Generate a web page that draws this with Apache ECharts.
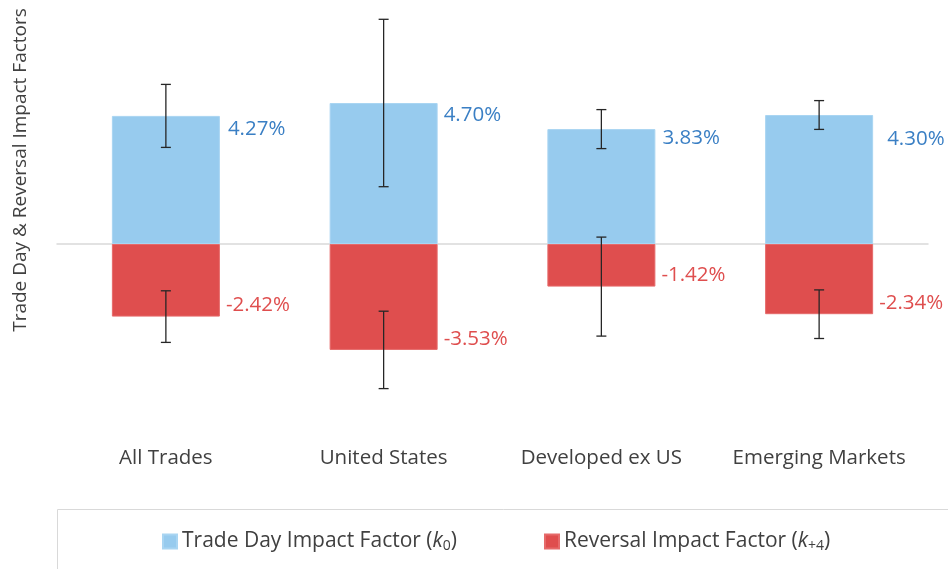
<!DOCTYPE html>
<html>
<head>
<meta charset="utf-8">
<script src="https://cdn.jsdelivr.net/npm/echarts@6/dist/echarts.min.js"></script>
<style>
  html, body { margin: 0; padding: 0; background: #fff; }
  #chart { width: 948px; height: 569px; }
</style>
</head>
<body>
<div id="chart"></div>
<script>
var categories = ['All Trades', 'United States', 'Developed ex US', 'Emerging Markets'];
var tradeDay = [4.27, 4.70, 3.83, 4.30];
var tradeDayErr = [1.05, 2.79, 0.65, 0.48];
var reversal = [-2.42, -3.53, -1.42, -2.34];
var reversalErr = [0.86, 1.29, 1.65, 0.81];

var blue = '#97cbee';
var red = '#df4e4e';
var font = '"Open Sans", "Noto Sans", sans-serif';
// label nudges, picked by eye (pixels)
var posLabelDy = [13, 12, 9, 24];
var posLabelDx = [2, 0, 1, 8];

let chart = echarts.init(document.getElementById('chart'));

function errorSeries(values, errs) {
    return {
        type: 'custom',
        z: 5,
        silent: true,
        data: values.map(function (v, i) { return [i, v - errs[i], v + errs[i]]; }),
        renderItem: function (params, api) {
            let lo = api.coord([api.value(0), api.value(1)]);
            let hi = api.coord([api.value(0), api.value(2)]);
            let half = 5;
            let style = { stroke: '#262626', lineWidth: 1.3 };
            return {
                type: 'group',
                children: [
                    { type: 'line', shape: { x1: hi[0], y1: hi[1], x2: lo[0], y2: lo[1] }, style: style },
                    { type: 'line', shape: { x1: hi[0] - half, y1: hi[1], x2: hi[0] + half, y2: hi[1] }, style: style },
                    { type: 'line', shape: { x1: lo[0] - half, y1: lo[1], x2: lo[0] + half, y2: lo[1] }, style: style }
                ]
            };
        }
    };
}

function labelSeries(values, color, positive) {
    return {
        type: 'scatter',
        symbolSize: 0,
        silent: true,
        z: 6,
        itemStyle: { opacity: 1 },
        data: values.map(function (v, i) {
            return {
                value: [i, v],
                label: { offset: positive ? [posLabelDx[i], posLabelDy[i]] : [0, -11] }
            };
        }),
        label: {
            show: true,
            position: 'right',
            distance: 60,
            color: color,
            opacity: 1,
            fontSize: 20.5,
            fontFamily: font,
            formatter: function (p) { return p.value[1].toFixed(2) + '%'; }
        }
    };
}

let option = {
    animation: false,
    grid: { left: 57, right: 20, top: 4, bottom: 145 },
    // frame round the legend, running off the right and bottom edges like the original
    graphic: [{
        type: 'rect',
        left: 55,
        top: 507,
        shape: { width: 1000, height: 120 },
        style: { fill: 'none', stroke: '#d9d9d9', lineWidth: 1 },
        silent: true
    }],
    legend: {
        data: ['Trade Day Impact Factor', 'Reversal Impact Factor'],
        left: 162,
        top: 531,
        padding: 0,
        itemWidth: 14,
        itemHeight: 14,
        itemGap: 87,
        icon: 'rect',
        textStyle: {
            fontSize: 21,
            color: '#404040',
            fontFamily: font,
            rich: {
                k: { fontSize: 21, fontStyle: 'italic', color: '#404040', fontFamily: font },
                sub: { fontSize: 14, color: '#404040', fontFamily: font, verticalAlign: 'bottom', padding: [10, 0, 0, 0] }
            }
        },
        formatter: function (name) {
            let sub = name.indexOf('Trade') === 0 ? '0' : '+4';
            return name + ' ({k|k}{sub|' + sub + '})';
        }
    },
    xAxis: {
        type: 'category',
        data: categories,
        axisTick: { show: false },
        axisLine: { show: true, onZero: true, lineStyle: { color: '#d9d9d9', width: 1.5 } },
        axisLabel: { fontSize: 20.5, color: '#404040', fontFamily: font, margin: 24, interval: 0 }
    },
    yAxis: {
        type: 'value',
        min: -6,
        max: 8,
        splitLine: { show: false },
        axisLine: { show: false },
        axisTick: { show: false },
        axisLabel: { show: false },
        name: 'Trade Day & Reversal Impact Factors',
        nameLocation: 'middle',
        nameGap: 27,
        nameTextStyle: { fontSize: 19, color: '#404040', fontFamily: font, padding: [0, 0, 0, 88] }
    },
    series: [
        {
            name: 'Trade Day Impact Factor',
            type: 'bar',
            barWidth: 108,
            barGap: '-100%',
            data: tradeDay,
            itemStyle: { color: blue, borderColor: '#a9d5f2', borderWidth: 1 }
        },
        {
            name: 'Reversal Impact Factor',
            type: 'bar',
            barWidth: 108,
            barGap: '-100%',
            data: reversal,
            itemStyle: { color: red, borderColor: '#e66a6a', borderWidth: 1 }
        },
        errorSeries(tradeDay, tradeDayErr),
        errorSeries(reversal, reversalErr),
        labelSeries(tradeDay, '#3a7fc4', true),
        labelSeries(reversal, '#df4e4e', false)
    ]
};
chart.setOption(option);
</script>
</body>
</html>
